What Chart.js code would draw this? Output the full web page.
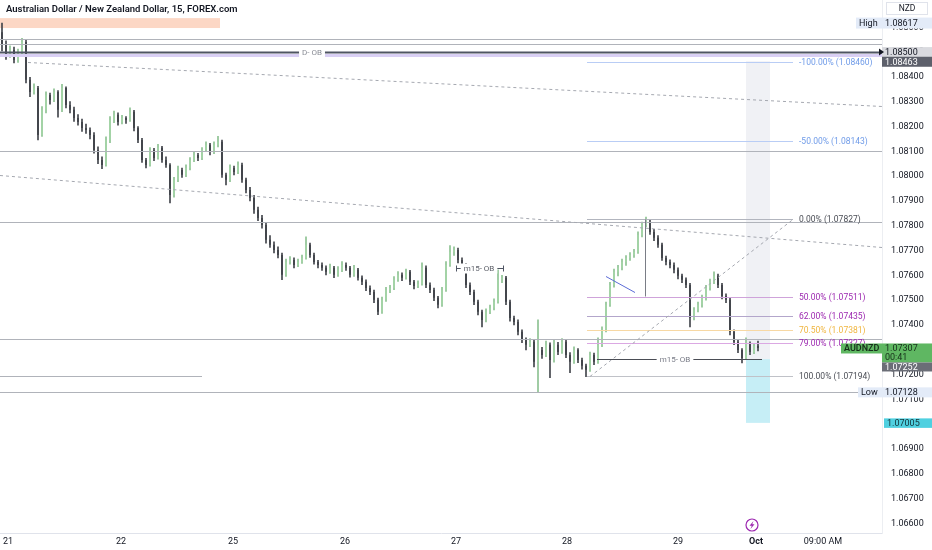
<!DOCTYPE html>
<html>
<head>
<meta charset="utf-8">
<script src="https://cdn.jsdelivr.net/npm/chart.js@4.4.0/dist/chart.umd.min.js"></script>
<style>
  html, body { margin: 0; padding: 0; background: #fff; }
  #wrap { position: relative; width: 932px; height: 550px; }
  #title { position: absolute; left: 6px; top: 3px; font: 600 9.5px Roboto, sans-serif; color: #131722; }
  #cur { position: absolute; left: 886px; top: 2px; width: 42px; height: 13px; box-sizing: border-box;
         border: 1px solid #e0e3eb; font: 8.5px Roboto, sans-serif; color: #131722; text-align: center; line-height: 11px; }
</style>
</head>
<body>
<div id="wrap">
  <canvas id="chart" width="932" height="550"></canvas>
  <div id="title">Australian Dollar / New Zealand Dollar, 15, FOREX.com</div>
  <div id="cur">NZD</div>
</div>
<script>
// AUDNZD 15m, one candle per ~hour
const opens = [
  1.08580,1.08529,1.08488,1.08508,1.08468,1.08500,1.08541,1.08388,1.08339,1.08355,
  1.08166,1.08267,1.08327,1.08307,1.08339,1.08267,1.08355,1.08287,1.08267,1.08234,
  1.08218,1.08194,1.08186,1.08166,1.08105,1.08065,1.08045,1.08146,1.08226,1.08247,
  1.08218,1.08234,1.08226,1.08259,1.08194,1.08146,1.08065,1.08045,1.08105,1.08073,
  1.08114,1.08065,1.08045,1.07924,1.07985,1.08025,1.08005,1.08033,1.08065,1.08085,
  1.08073,1.08105,1.08126,1.08097,1.08126,1.08138,1.08005,1.07985,1.08033,1.08017,
  1.08045,1.07985,1.07944,1.07912,1.07864,1.07831,1.07803,1.07743,1.07723,1.07702,
  1.07682,1.07602,1.07654,1.07662,1.07642,1.07654,1.07670,1.07723,1.07682,1.07654,
  1.07642,1.07630,1.07614,1.07630,1.07602,1.07622,1.07642,1.07630,1.07602,1.07622,
  1.07590,1.07574,1.07549,1.07533,1.07501,1.07453,1.07501,1.07541,1.07549,1.07582,
  1.07602,1.07590,1.07614,1.07574,1.07557,1.07565,1.07630,1.07561,1.07541,1.07509,
  1.07481,1.07541,1.07642,1.07694,1.07702,1.07662,1.07642,1.07561,1.07533,1.07493,
  1.07453,1.07420,1.07453,1.07469,1.07493,1.07582,1.07590,1.07493,1.07428,1.07412,
  1.07372,1.07340,1.07320,1.07332,1.07251,1.07299,1.07279,1.07320,1.07259,1.07320,
  1.07291,1.07332,1.07279,1.07251,1.07299,1.07259,1.07235,1.07219,1.07279,1.07251,
  1.07320,1.07380,1.07481,1.07561,1.07614,1.07630,1.07654,1.07670,1.07682,1.07694,
  1.07763,1.07803,1.07815,1.07775,1.07751,1.07723,1.07670,1.07654,1.07642,1.07622,
  1.07598,1.07582,1.07561,1.07428,1.07461,1.07481,1.07509,1.07549,1.07574,1.07598,
  1.07561,1.07517,1.07501,1.07372,1.07332,1.07299,1.07267,1.07324,1.07291,1.07316
];
const highs = [
  1.08617,1.08545,1.08525,1.08520,1.08512,1.08555,1.08550,1.08398,1.08372,1.08362,
  1.08280,1.08340,1.08335,1.08352,1.08345,1.08370,1.08360,1.08300,1.08278,1.08248,
  1.08230,1.08210,1.08195,1.08175,1.08118,1.08078,1.08158,1.08240,1.08262,1.08255,
  1.08245,1.08240,1.08275,1.08265,1.08200,1.08152,1.08072,1.08115,1.08112,1.08128,
  1.08120,1.08078,1.08050,1.07995,1.08040,1.08032,1.08045,1.08075,1.08098,1.08092,
  1.08115,1.08138,1.08132,1.08138,1.08160,1.08145,1.08012,1.08045,1.08040,1.08058,
  1.08052,1.07992,1.07955,1.07922,1.07875,1.07842,1.07812,1.07760,1.07735,1.07715,
  1.07690,1.07665,1.07675,1.07670,1.07665,1.07682,1.07755,1.07730,1.07690,1.07660,
  1.07650,1.07638,1.07645,1.07636,1.07635,1.07655,1.07650,1.07636,1.07640,1.07628,
  1.07598,1.07582,1.07558,1.07540,1.07508,1.07512,1.07552,1.07560,1.07595,1.07615,
  1.07610,1.07625,1.07620,1.07580,1.07578,1.07650,1.07638,1.07570,1.07548,1.07515,
  1.07552,1.07655,1.07720,1.07715,1.07710,1.07670,1.07648,1.07570,1.07540,1.07500,
  1.07460,1.07465,1.07480,1.07505,1.07622,1.07600,1.07596,1.07500,1.07436,1.07420,
  1.07380,1.07348,1.07345,1.07340,1.07420,1.07310,1.07335,1.07328,1.07340,1.07330,
  1.07345,1.07340,1.07288,1.07312,1.07305,1.07266,1.07242,1.07290,1.07286,1.07348,
  1.07392,1.07492,1.07572,1.07625,1.07640,1.07665,1.07680,1.07692,1.07705,1.07775,
  1.07815,1.07835,1.07822,1.07785,1.07760,1.07730,1.07678,1.07662,1.07650,1.07630,
  1.07605,1.07590,1.07568,1.07470,1.07492,1.07520,1.07560,1.07585,1.07614,1.07605,
  1.07568,1.07525,1.07508,1.07380,1.07340,1.07305,1.07348,1.07332,1.07325,1.07335
];
const lows = [
  1.08505,1.08470,1.08478,1.08456,1.08458,1.08490,1.08376,1.08320,1.08330,1.08146,
  1.08160,1.08255,1.08290,1.08300,1.08238,1.08260,1.08275,1.08255,1.08220,1.08205,
  1.08180,1.08172,1.08150,1.08092,1.08050,1.08030,1.08040,1.08135,1.08215,1.08205,
  1.08210,1.08212,1.08220,1.08182,1.08135,1.08055,1.08033,1.08040,1.08062,1.08068,
  1.08055,1.08035,1.07892,1.07915,1.07978,1.07995,1.07998,1.08025,1.08058,1.08062,
  1.08066,1.08098,1.08085,1.08090,1.08118,1.07995,1.07964,1.07978,1.08005,1.08010,
  1.07975,1.07932,1.07900,1.07850,1.07820,1.07790,1.07730,1.07712,1.07690,1.07670,
  1.07582,1.07595,1.07645,1.07630,1.07635,1.07648,1.07665,1.07672,1.07645,1.07630,
  1.07620,1.07602,1.07608,1.07590,1.07595,1.07615,1.07620,1.07592,1.07596,1.07580,
  1.07562,1.07538,1.07522,1.07490,1.07441,1.07446,1.07495,1.07530,1.07542,1.07575,
  1.07578,1.07584,1.07562,1.07545,1.07550,1.07560,1.07550,1.07530,1.07498,1.07469,
  1.07475,1.07535,1.07636,1.07680,1.07650,1.07630,1.07550,1.07522,1.07482,1.07440,
  1.07392,1.07412,1.07445,1.07460,1.07488,1.07570,1.07482,1.07415,1.07400,1.07360,
  1.07328,1.07299,1.07312,1.07231,1.07128,1.07265,1.07272,1.07187,1.07250,1.07280,
  1.07285,1.07268,1.07207,1.07245,1.07248,1.07222,1.07191,1.07212,1.07240,1.07245,
  1.07312,1.07372,1.07475,1.07552,1.07598,1.07622,1.07640,1.07660,1.07672,1.07688,
  1.07755,1.07795,1.07765,1.07740,1.07712,1.07660,1.07642,1.07630,1.07610,1.07585,
  1.07570,1.07550,1.07392,1.07420,1.07452,1.07472,1.07500,1.07540,1.07566,1.07550,
  1.07505,1.07490,1.07360,1.07320,1.07288,1.07247,1.07260,1.07280,1.07284,1.07295
];
const closes = [
  1.08529,1.08488,1.08508,1.08468,1.08500,1.08541,1.08388,1.08339,1.08355,1.08166,
  1.08267,1.08327,1.08307,1.08339,1.08267,1.08355,1.08287,1.08267,1.08234,1.08218,
  1.08194,1.08186,1.08166,1.08105,1.08065,1.08045,1.08146,1.08226,1.08247,1.08218,
  1.08234,1.08226,1.08259,1.08194,1.08146,1.08065,1.08045,1.08105,1.08073,1.08114,
  1.08065,1.08045,1.07924,1.07985,1.08025,1.08005,1.08033,1.08065,1.08085,1.08073,
  1.08105,1.08126,1.08097,1.08126,1.08138,1.08005,1.07985,1.08033,1.08017,1.08045,
  1.07985,1.07944,1.07912,1.07864,1.07831,1.07803,1.07743,1.07723,1.07702,1.07682,
  1.07602,1.07654,1.07662,1.07642,1.07654,1.07670,1.07723,1.07682,1.07654,1.07642,
  1.07630,1.07614,1.07630,1.07602,1.07622,1.07642,1.07630,1.07602,1.07622,1.07590,
  1.07574,1.07549,1.07533,1.07501,1.07453,1.07501,1.07541,1.07549,1.07582,1.07602,
  1.07590,1.07614,1.07574,1.07557,1.07565,1.07630,1.07561,1.07541,1.07509,1.07481,
  1.07541,1.07642,1.07694,1.07702,1.07662,1.07642,1.07561,1.07533,1.07493,1.07453,
  1.07420,1.07453,1.07469,1.07493,1.07582,1.07590,1.07493,1.07428,1.07412,1.07372,
  1.07340,1.07320,1.07332,1.07251,1.07299,1.07279,1.07320,1.07259,1.07320,1.07291,
  1.07332,1.07279,1.07251,1.07299,1.07259,1.07235,1.07219,1.07279,1.07251,1.07320,
  1.07380,1.07481,1.07561,1.07614,1.07630,1.07654,1.07670,1.07682,1.07694,1.07763,
  1.07803,1.07815,1.07775,1.07751,1.07723,1.07670,1.07654,1.07642,1.07622,1.07598,
  1.07582,1.07561,1.07428,1.07461,1.07481,1.07509,1.07549,1.07574,1.07598,1.07561,
  1.07517,1.07501,1.07372,1.07332,1.07299,1.07267,1.07324,1.07291,1.07316,1.07307
];

// axis ticks
const dayTickPos = [1.5, 29.75, 57.75, 85.75, 113.5, 141.25, 169, 188.5, 205.25];
const dayLabels = ['21', '22', '25', '26', '27', '28', '29', 'Oct', '09:00 AM'];
const priceTicks = [1.066, 1.067, 1.068, 1.069, 1.070, 1.071, 1.072, 1.073, 1.074, 1.075,
  1.076, 1.077, 1.078, 1.079, 1.080, 1.081, 1.082, 1.083, 1.084, 1.085, 1.086];

// fib retracement
const fibLevels = [-1, -0.5, 0, 0.5, 0.62, 0.705, 0.79, 1];
const fibPrices = [1.08460, 1.08143, 1.07827, 1.07511, 1.07435, 1.07381, 1.07327, 1.07194];

// price marks on the axis
const highPrice = 1.08617, lowPrice = 1.07128, lastPrice = 1.07307;
const dobPrice = 1.08500, prevPrice = 1.08463, bidPrice = 1.07252, stopPrice = 1.07005;
const entryPrice = 1.07262, upperObPrice = 1.07629;

const UP = '#a3d3a6', UP_WICK = '#8dc292', DOWN = '#43464c';
const FIB_COL = ['#b9cdf5', '#b9cdf5', '#b2b5be', '#cfa3da', '#b3a6cb', '#f7d8a4', '#dba8e3', '#c0c2c8'];
const FIB_TXT = ['#6f9be8', '#6f9be8', '#4a4d55', '#9c27b0', '#9c27b0', '#f0b640', '#9c27b0', '#4a4d55'];

Chart.defaults.font.family = 'Roboto, sans-serif';

function line(ctx, x1, y1, x2, y2, color, w, dash) {
  ctx.beginPath();
  ctx.strokeStyle = color;
  ctx.lineWidth = w || 1;
  ctx.setLineDash(dash || []);
  ctx.moveTo(x1, y1);
  ctx.lineTo(x2, y2);
  ctx.stroke();
  ctx.setLineDash([]);
}
function crisp(v) { return Math.round(v) + 0.5; }

function tag(ctx, x1, x2, top, h, bg, txt, fg, bold) {
  ctx.fillStyle = bg;
  ctx.fillRect(x1, top, x2 - x1, h);
  ctx.fillStyle = fg;
  ctx.font = (bold ? '600 ' : '') + '9px Roboto, sans-serif';
  ctx.textAlign = 'left';
  ctx.textBaseline = 'middle';
  ctx.fillText(txt, x1 + 3, top + h / 2 + 0.5);
}

function textOnLine(ctx, txt, cx, cy, color) {
  ctx.font = '8px Roboto, sans-serif';
  const w = ctx.measureText(txt).width + 6;
  ctx.fillStyle = '#ffffff';
  ctx.fillRect(cx - w / 2, cy - 5, w, 10);
  ctx.fillStyle = color;
  ctx.textAlign = 'center';
  ctx.textBaseline = 'middle';
  ctx.fillText(txt, cx, cy + 0.5);
}

const drawings = {
  id: 'drawings',
  beforeDatasetsDraw(chart) {
    const { ctx, scales: { x, y } } = chart;
    ctx.save();
    // order block zone top left
    ctx.fillStyle = 'rgba(251,205,182,0.8)';
    let t = y.getPixelForValue(1.08637), b = y.getPixelForValue(1.08597);
    ctx.fillRect(x.getPixelForValue(-0.5), t, x.getPixelForValue(54.5) - x.getPixelForValue(-0.5), b - t);
    // position tool
    const bx1 = x.getPixelForValue(186), bx2 = x.getPixelForValue(192);
    t = y.getPixelForValue(prevPrice); b = y.getPixelForValue(entryPrice);
    ctx.fillStyle = '#f0f1f5';
    ctx.fillRect(bx1, t, bx2 - bx1, b - t);
    t = b; b = y.getPixelForValue(stopPrice);
    ctx.fillStyle = '#c6eef6';
    ctx.fillRect(bx1, t, bx2 - bx1, b - t);
    ctx.restore();
  },
  afterDatasetsDraw(chart) {
    const { ctx, scales: { x, y } } = chart;
    const X = v => x.getPixelForValue(v), Y = v => crisp(y.getPixelForValue(v));
    ctx.save();
    // plain horizontal levels
    [[1.08553, 220], [1.08533, 220], [1.08103, 220], [1.07814, 220], [1.07343, 220], [lowPrice, 220], [1.07195, 50]]
      .forEach(([p, to]) => line(ctx, X(-0.5), Y(p), X(to), Y(p), '#b0b3ba', 1));
    // lavender band + daily OB
    line(ctx, X(-0.5), Y(1.08488), X(220), Y(1.08488), '#d9cff4', 3);
    line(ctx, X(-0.5), Y(dobPrice), X(220), Y(dobPrice), '#4f5563', 2);
    textOnLine(ctx, 'D- OB', X(77.5), Y(dobPrice), '#8a8d96');
    // dashed trend lines
    line(ctx, X(6.5), Y(1.08460), X(220), Y(1.08283), '#a5a8b0', 1, [3, 3]);
    line(ctx, X(-0.5), Y(1.08005), X(220), Y(1.07714), '#a5a8b0', 1, [3, 3]);
    // fib
    fibPrices.forEach((p, i) => {
      line(ctx, X(146.25), Y(p), X(197.75), Y(p), FIB_COL[i], 1);
      ctx.font = '8.5px Roboto, sans-serif';
      ctx.fillStyle = FIB_TXT[i];
      ctx.textAlign = 'left';
      ctx.textBaseline = 'middle';
      ctx.fillText((fibLevels[i] * 100).toFixed(2) + '% (' + p.toFixed(5) + ')', X(199.25), Y(p));
    });
    line(ctx, X(147), Y(fibPrices[7]), X(197.75), Y(fibPrices[2]), '#a5a8b0', 1, [3, 3]);
    // vertical + small blue line
    line(ctx, crisp(X(160.75)), Y(fibPrices[2]), crisp(X(160.75)), Y(1.07517), '#7a7d86', 1);
    line(ctx, X(151), Y(1.07598), X(158.25), Y(1.07533), '#5b6bd6', 1);
    // m15 order blocks
    line(ctx, X(113.5), Y(upperObPrice), X(125.25), Y(upperObPrice), '#4f5563', 1);
    line(ctx, crisp(X(113.5)), Y(upperObPrice) - 3, crisp(X(113.5)), Y(upperObPrice) + 3, '#4f5563', 1);
    line(ctx, crisp(X(125.25)), Y(upperObPrice) - 3, crisp(X(125.25)), Y(upperObPrice) + 3, '#4f5563', 1);
    textOnLine(ctx, 'm15- OB', X(119.25), Y(upperObPrice), '#5d6069');
    line(ctx, X(148.75), Y(entryPrice), X(190), Y(entryPrice), '#4a4d55', 1);
    textOnLine(ctx, 'm15- OB', X(168.25), Y(entryPrice), '#787b86');
    ctx.restore();
  },
  afterDraw(chart) {
    const { ctx, scales: { x, y }, chartArea: a } = chart;
    const R = a.right, W = chart.width;
    const Y = v => y.getPixelForValue(v);
    ctx.save();
    // high
    tag(ctx, R - 26, R, Y(highPrice) - 5.5, 11, '#e3ebf8', 'High', '#131722');
    tag(ctx, R, W, Y(highPrice) - 5.5, 11, '#e3ebf8', highPrice.toFixed(5), '#131722');
    // daily OB level
    tag(ctx, R, W, Y(dobPrice) - 5, 10, '#d9dadf', dobPrice.toFixed(5), '#131722');
    ctx.fillStyle = '#131722';
    ctx.beginPath();
    ctx.moveTo(R - 3, Y(dobPrice) - 3.5); ctx.lineTo(R + 2, Y(dobPrice)); ctx.lineTo(R - 3, Y(dobPrice) + 3.5);
    ctx.fill();
    tag(ctx, R, W, Y(prevPrice) - 4.5, 10, '#5d606b', prevPrice.toFixed(5), '#ffffff');
    // last price
    const ly = Y(lastPrice);
    tag(ctx, R - 41, R, ly - 4.5, 10, '#5fb762', 'AUDNZD', '#16301a', true);
    tag(ctx, R, W, ly - 4.5, 19, '#5fb762', '', '#16301a');
    ctx.fillStyle = '#16301a';
    ctx.font = '9px Roboto, sans-serif';
    ctx.fillText(lastPrice.toFixed(5), R + 3, ly + 0.5);
    ctx.fillText('00:41', R + 3, ly + 9.5);
    const gb = ly + 14.5;
    tag(ctx, R, W, Math.max(Y(bidPrice) - 4.5, gb), 9, '#6b6e77', bidPrice.toFixed(5), '#ffffff');
    // low
    tag(ctx, R - 24, R, Y(lowPrice) - 5, 10, '#e3ebf8', 'Low', '#131722');
    tag(ctx, R, W, Y(lowPrice) - 5, 10, '#e3ebf8', lowPrice.toFixed(5), '#131722');
    tag(ctx, R + 2, W, Y(stopPrice) - 4.5, 9.5, '#4fd0e0', stopPrice.toFixed(5), '#12343a');
    // lightning marker
    const ix = x.getPixelForValue(187.5), iy = a.bottom - 8;
    ctx.strokeStyle = '#9c27b0';
    ctx.lineWidth = 1.2;
    ctx.beginPath(); ctx.arc(ix, iy, 6, 0, Math.PI * 2); ctx.stroke();
    ctx.fillStyle = '#9c27b0';
    ctx.beginPath();
    ctx.moveTo(ix + 1.5, iy - 4); ctx.lineTo(ix - 2.5, iy + 0.8); ctx.lineTo(ix - 0.2, iy + 0.8);
    ctx.lineTo(ix - 1.5, iy + 4); ctx.lineTo(ix + 2.5, iy - 0.8); ctx.lineTo(ix + 0.2, iy - 0.8);
    ctx.closePath(); ctx.fill();
    ctx.restore();
  }
};

const candleColor = c => closes[c.dataIndex] >= opens[c.dataIndex] ? UP : DOWN;
const wickColor = c => closes[c.dataIndex] >= opens[c.dataIndex] ? UP_WICK : DOWN;

new Chart(document.getElementById('chart'), {
  type: 'bar',
  data: {
    datasets: [
      {
        label: 'body',
        data: opens.map((o, i) => ({ x: i, y: [o, closes[i]] })),
        backgroundColor: candleColor,
        barPercentage: 0.5,
        categoryPercentage: 1,
        minBarLength: 1
      },
      {
        label: 'wick',
        data: lows.map((l, i) => ({ x: i, y: [l, highs[i]] })),
        backgroundColor: wickColor,
        barThickness: 1
      }
    ]
  },
  options: {
    responsive: false,
    animation: false,
    layout: { padding: 0 },
    datasets: { bar: { grouped: false } },
    plugins: { legend: { display: false }, tooltip: { enabled: false } },
    scales: {
      x: {
        type: 'linear',
        offset: false,
        min: -0.5,
        max: 220,
        grid: { display: false, drawTicks: false },
        border: { display: true, color: '#e0e3eb' },
        afterBuildTicks: s => { s.ticks = dayTickPos.map(v => ({ value: v })); },
        afterFit: s => { s.height = 17; s.paddingLeft = 0; s.paddingRight = 0; },
        ticks: {
          padding: 3,
          maxRotation: 0,
          autoSkip: false,
          color: '#131722',
          font: c => ({ size: 9, weight: dayLabels[c.index] === 'Oct' ? 'bold' : 'normal' }),
          callback: (v, i) => dayLabels[i]
        }
      },
      y: {
        position: 'right',
        min: 1.06561,
        max: 1.08710,
        grid: { display: false, drawTicks: false },
        border: { display: true, color: '#eceef2' },
        afterBuildTicks: s => { s.ticks = priceTicks.map(v => ({ value: v })); },
        afterFit: s => { s.width = 50; s.paddingTop = 0; s.paddingBottom = 0; },
        ticks: { padding: 9, color: '#131722', font: { size: 9 }, callback: v => v.toFixed(5) }
      }
    }
  },
  plugins: [drawings]
});
</script>
</body>
</html>
